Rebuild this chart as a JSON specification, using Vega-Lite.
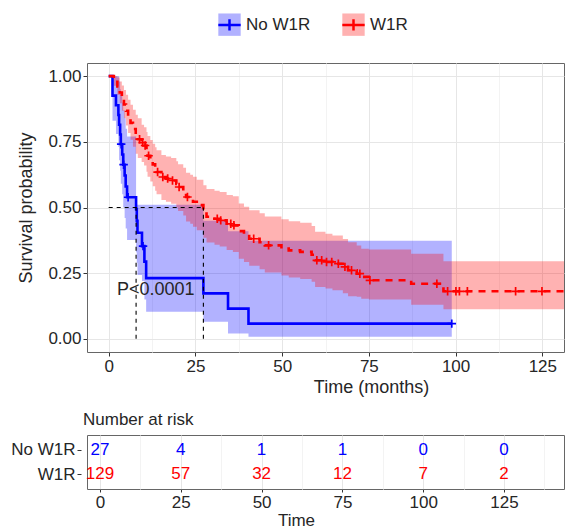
{
  "$schema": "https://vega.github.io/schema/vega-lite/v6.json",
  "padding": {"left": 10, "top": 11, "right": 0, "bottom": 0},
  "background": "white",
  "config": {
    "font": "Liberation Sans",
    "view": {"stroke": "#666666", "strokeWidth": 1},
    "axis": {
      "labelFont": "Liberation Sans", "labelFontSize": 17, "labelColor": "#262626",
      "titleFont": "Liberation Sans", "titleFontSize": 18, "titleFontWeight": "normal", "titleColor": "#262626",
      "domain": false, "tickColor": "#333333", "tickSize": 4, "labelPadding": 2
    },
    "legend": {"labelFontWeight": "normal"},
    "title": {"font": "Liberation Sans", "fontSize": 17, "fontWeight": "normal", "color": "#262626"}
  },
  "datasets": {
    "km": [
      {"group": "No W1R", "time": 0, "surv": 1},
      {"group": "No W1R", "time": 1.1, "surv": 0.926},
      {"group": "No W1R", "time": 2.1, "surv": 0.889},
      {"group": "No W1R", "time": 2.8, "surv": 0.852},
      {"group": "No W1R", "time": 3.0, "surv": 0.815},
      {"group": "No W1R", "time": 3.3, "surv": 0.778},
      {"group": "No W1R", "time": 3.5, "surv": 0.741},
      {"group": "No W1R", "time": 3.9, "surv": 0.702},
      {"group": "No W1R", "time": 4.2, "surv": 0.663},
      {"group": "No W1R", "time": 4.6, "surv": 0.622},
      {"group": "No W1R", "time": 4.9, "surv": 0.580},
      {"group": "No W1R", "time": 5.3, "surv": 0.539},
      {"group": "No W1R", "time": 7.9, "surv": 0.494},
      {"group": "No W1R", "time": 8.1, "surv": 0.449},
      {"group": "No W1R", "time": 8.3, "surv": 0.404},
      {"group": "No W1R", "time": 9.6, "surv": 0.353},
      {"group": "No W1R", "time": 10.3, "surv": 0.294},
      {"group": "No W1R", "time": 10.8, "surv": 0.231},
      {"group": "No W1R", "time": 27.3, "surv": 0.173},
      {"group": "No W1R", "time": 34.4, "surv": 0.115},
      {"group": "No W1R", "time": 40.3, "surv": 0.058},
      {"group": "No W1R", "time": 98.9, "surv": 0.058},
      {"group": "W1R", "time": 0, "surv": 1},
      {"group": "W1R", "time": 1.5, "surv": 0.984},
      {"group": "W1R", "time": 2.5, "surv": 0.961},
      {"group": "W1R", "time": 3.2, "surv": 0.938},
      {"group": "W1R", "time": 3.8, "surv": 0.915},
      {"group": "W1R", "time": 4.4, "surv": 0.892},
      {"group": "W1R", "time": 5.0, "surv": 0.868},
      {"group": "W1R", "time": 5.6, "surv": 0.845},
      {"group": "W1R", "time": 6.3, "surv": 0.822},
      {"group": "W1R", "time": 7.0, "surv": 0.799},
      {"group": "W1R", "time": 7.8, "surv": 0.776},
      {"group": "W1R", "time": 8.4, "surv": 0.760},
      {"group": "W1R", "time": 9.5, "surv": 0.747},
      {"group": "W1R", "time": 10.2, "surv": 0.736},
      {"group": "W1R", "time": 10.9, "surv": 0.714},
      {"group": "W1R", "time": 11.2, "surv": 0.697},
      {"group": "W1R", "time": 12.0, "surv": 0.680},
      {"group": "W1R", "time": 12.7, "surv": 0.664},
      {"group": "W1R", "time": 13.4, "surv": 0.648},
      {"group": "W1R", "time": 13.8, "surv": 0.635},
      {"group": "W1R", "time": 15.2, "surv": 0.616},
      {"group": "W1R", "time": 16.5, "surv": 0.610},
      {"group": "W1R", "time": 18.0, "surv": 0.603},
      {"group": "W1R", "time": 19.5, "surv": 0.590},
      {"group": "W1R", "time": 20.0, "surv": 0.578},
      {"group": "W1R", "time": 21.5, "surv": 0.562},
      {"group": "W1R", "time": 22.3, "surv": 0.540},
      {"group": "W1R", "time": 23.5, "surv": 0.532},
      {"group": "W1R", "time": 24.3, "surv": 0.522},
      {"group": "W1R", "time": 25.4, "surv": 0.509},
      {"group": "W1R", "time": 27.3, "surv": 0.482},
      {"group": "W1R", "time": 28.2, "surv": 0.465},
      {"group": "W1R", "time": 30.5, "surv": 0.457},
      {"group": "W1R", "time": 32.0, "surv": 0.451},
      {"group": "W1R", "time": 34.0, "surv": 0.438},
      {"group": "W1R", "time": 35.8, "surv": 0.432},
      {"group": "W1R", "time": 37.5, "surv": 0.410},
      {"group": "W1R", "time": 39.0, "surv": 0.397},
      {"group": "W1R", "time": 40.5, "surv": 0.381},
      {"group": "W1R", "time": 43.5, "surv": 0.368},
      {"group": "W1R", "time": 45.0, "surv": 0.356},
      {"group": "W1R", "time": 49.8, "surv": 0.344},
      {"group": "W1R", "time": 51.9, "surv": 0.337},
      {"group": "W1R", "time": 55.2, "surv": 0.331},
      {"group": "W1R", "time": 58.5, "surv": 0.320},
      {"group": "W1R", "time": 59.5, "surv": 0.299},
      {"group": "W1R", "time": 62.5, "surv": 0.293},
      {"group": "W1R", "time": 64.5, "surv": 0.286},
      {"group": "W1R", "time": 67.5, "surv": 0.274},
      {"group": "W1R", "time": 69.0, "surv": 0.261},
      {"group": "W1R", "time": 71.5, "surv": 0.248},
      {"group": "W1R", "time": 72.8, "surv": 0.236},
      {"group": "W1R", "time": 75.0, "surv": 0.223},
      {"group": "W1R", "time": 87.2, "surv": 0.210},
      {"group": "W1R", "time": 96.5, "surv": 0.181},
      {"group": "W1R", "time": 131.25, "surv": 0.181}
    ],
    "bands": [
      {"strata": "No W1R", "time": 0, "lower": 1, "upper": 1},
      {"strata": "No W1R", "time": 1.1, "lower": 0.83, "upper": 1},
      {"strata": "No W1R", "time": 2.1, "lower": 0.78, "upper": 1},
      {"strata": "No W1R", "time": 2.8, "lower": 0.73, "upper": 1},
      {"strata": "No W1R", "time": 3.0, "lower": 0.68, "upper": 0.98},
      {"strata": "No W1R", "time": 3.3, "lower": 0.64, "upper": 0.95},
      {"strata": "No W1R", "time": 3.5, "lower": 0.59, "upper": 0.93},
      {"strata": "No W1R", "time": 3.9, "lower": 0.55, "upper": 0.90},
      {"strata": "No W1R", "time": 4.2, "lower": 0.50, "upper": 0.87},
      {"strata": "No W1R", "time": 4.6, "lower": 0.46, "upper": 0.84},
      {"strata": "No W1R", "time": 4.9, "lower": 0.42, "upper": 0.80},
      {"strata": "No W1R", "time": 5.3, "lower": 0.376, "upper": 0.77},
      {"strata": "No W1R", "time": 7.9, "lower": 0.33, "upper": 0.51},
      {"strata": "No W1R", "time": 8.1, "lower": 0.29, "upper": 0.51},
      {"strata": "No W1R", "time": 8.3, "lower": 0.243, "upper": 0.51},
      {"strata": "No W1R", "time": 9.6, "lower": 0.22, "upper": 0.51},
      {"strata": "No W1R", "time": 10.3, "lower": 0.15, "upper": 0.51},
      {"strata": "No W1R", "time": 10.8, "lower": 0.103, "upper": 0.51},
      {"strata": "No W1R", "time": 27.3, "lower": 0.065, "upper": 0.45},
      {"strata": "No W1R", "time": 34.4, "lower": 0.02, "upper": 0.41},
      {"strata": "No W1R", "time": 40.3, "lower": 0.008, "upper": 0.373},
      {"strata": "No W1R", "time": 98.9, "lower": 0.008, "upper": 0.373},
      {"strata": "W1R", "time": 0, "lower": 1, "upper": 1},
      {"strata": "W1R", "time": 1.5, "lower": 0.963, "upper": 1},
      {"strata": "W1R", "time": 2.5, "lower": 0.928, "upper": 0.995},
      {"strata": "W1R", "time": 3.2, "lower": 0.897, "upper": 0.98},
      {"strata": "W1R", "time": 3.8, "lower": 0.868, "upper": 0.964},
      {"strata": "W1R", "time": 4.4, "lower": 0.84, "upper": 0.947},
      {"strata": "W1R", "time": 5.0, "lower": 0.812, "upper": 0.929},
      {"strata": "W1R", "time": 5.6, "lower": 0.784, "upper": 0.91},
      {"strata": "W1R", "time": 6.3, "lower": 0.758, "upper": 0.891},
      {"strata": "W1R", "time": 7.0, "lower": 0.731, "upper": 0.872},
      {"strata": "W1R", "time": 7.8, "lower": 0.705, "upper": 0.853},
      {"strata": "W1R", "time": 8.4, "lower": 0.688, "upper": 0.84},
      {"strata": "W1R", "time": 9.5, "lower": 0.673, "upper": 0.815},
      {"strata": "W1R", "time": 10.2, "lower": 0.66, "upper": 0.805},
      {"strata": "W1R", "time": 10.9, "lower": 0.636, "upper": 0.787},
      {"strata": "W1R", "time": 11.2, "lower": 0.617, "upper": 0.772},
      {"strata": "W1R", "time": 12.0, "lower": 0.599, "upper": 0.757},
      {"strata": "W1R", "time": 12.7, "lower": 0.581, "upper": 0.743},
      {"strata": "W1R", "time": 13.4, "lower": 0.564, "upper": 0.729},
      {"strata": "W1R", "time": 13.8, "lower": 0.55, "upper": 0.718},
      {"strata": "W1R", "time": 15.2, "lower": 0.529, "upper": 0.7},
      {"strata": "W1R", "time": 16.5, "lower": 0.522, "upper": 0.694},
      {"strata": "W1R", "time": 18.0, "lower": 0.514, "upper": 0.688},
      {"strata": "W1R", "time": 19.5, "lower": 0.5, "upper": 0.676},
      {"strata": "W1R", "time": 20.0, "lower": 0.487, "upper": 0.665},
      {"strata": "W1R", "time": 21.5, "lower": 0.47, "upper": 0.651},
      {"strata": "W1R", "time": 22.3, "lower": 0.447, "upper": 0.632},
      {"strata": "W1R", "time": 23.5, "lower": 0.438, "upper": 0.625},
      {"strata": "W1R", "time": 24.3, "lower": 0.427, "upper": 0.617},
      {"strata": "W1R", "time": 25.4, "lower": 0.413, "upper": 0.606},
      {"strata": "W1R", "time": 27.3, "lower": 0.385, "upper": 0.585},
      {"strata": "W1R", "time": 28.2, "lower": 0.367, "upper": 0.57},
      {"strata": "W1R", "time": 30.5, "lower": 0.358, "upper": 0.564},
      {"strata": "W1R", "time": 32.0, "lower": 0.352, "upper": 0.559},
      {"strata": "W1R", "time": 34.0, "lower": 0.338, "upper": 0.548},
      {"strata": "W1R", "time": 35.8, "lower": 0.331, "upper": 0.543},
      {"strata": "W1R", "time": 37.5, "lower": 0.305, "upper": 0.515},
      {"strata": "W1R", "time": 39.0, "lower": 0.293, "upper": 0.503},
      {"strata": "W1R", "time": 40.5, "lower": 0.278, "upper": 0.49},
      {"strata": "W1R", "time": 43.5, "lower": 0.265, "upper": 0.478},
      {"strata": "W1R", "time": 45.0, "lower": 0.253, "upper": 0.466},
      {"strata": "W1R", "time": 49.8, "lower": 0.241, "upper": 0.455},
      {"strata": "W1R", "time": 51.9, "lower": 0.234, "upper": 0.448},
      {"strata": "W1R", "time": 55.2, "lower": 0.228, "upper": 0.442},
      {"strata": "W1R", "time": 58.5, "lower": 0.217, "upper": 0.43},
      {"strata": "W1R", "time": 59.5, "lower": 0.197, "upper": 0.408},
      {"strata": "W1R", "time": 62.5, "lower": 0.192, "upper": 0.4},
      {"strata": "W1R", "time": 64.5, "lower": 0.185, "upper": 0.393},
      {"strata": "W1R", "time": 67.5, "lower": 0.174, "upper": 0.38},
      {"strata": "W1R", "time": 69.0, "lower": 0.162, "upper": 0.368},
      {"strata": "W1R", "time": 71.5, "lower": 0.16, "upper": 0.355},
      {"strata": "W1R", "time": 72.8, "lower": 0.153, "upper": 0.343},
      {"strata": "W1R", "time": 75.0, "lower": 0.15, "upper": 0.34},
      {"strata": "W1R", "time": 87.2, "lower": 0.13, "upper": 0.324},
      {"strata": "W1R", "time": 96.5, "lower": 0.113, "upper": 0.295},
      {"strata": "W1R", "time": 131.25, "lower": 0.113, "upper": 0.295}
    ],
    "cens": [
      {"group": "No W1R", "time": 3.6, "surv": 0.741},
      {"group": "No W1R", "time": 4.3, "surv": 0.663},
      {"group": "No W1R", "time": 5.6, "surv": 0.539},
      {"group": "No W1R", "time": 9.9, "surv": 0.353},
      {"group": "No W1R", "time": 98.9, "surv": 0.058},
      {"group": "W1R", "time": 8.9, "surv": 0.760},
      {"group": "W1R", "time": 9.8, "surv": 0.747},
      {"group": "W1R", "time": 10.5, "surv": 0.736},
      {"group": "W1R", "time": 11.5, "surv": 0.697},
      {"group": "W1R", "time": 14.1, "surv": 0.635},
      {"group": "W1R", "time": 15.6, "surv": 0.616},
      {"group": "W1R", "time": 17.0, "surv": 0.610},
      {"group": "W1R", "time": 18.4, "surv": 0.603},
      {"group": "W1R", "time": 20.3, "surv": 0.578},
      {"group": "W1R", "time": 22.7, "surv": 0.540},
      {"group": "W1R", "time": 31.3, "surv": 0.457},
      {"group": "W1R", "time": 32.3, "surv": 0.451},
      {"group": "W1R", "time": 35.2, "surv": 0.438},
      {"group": "W1R", "time": 36.1, "surv": 0.432},
      {"group": "W1R", "time": 41.8, "surv": 0.381},
      {"group": "W1R", "time": 46.1, "surv": 0.356},
      {"group": "W1R", "time": 60.0, "surv": 0.299},
      {"group": "W1R", "time": 61.4, "surv": 0.299},
      {"group": "W1R", "time": 62.8, "surv": 0.293},
      {"group": "W1R", "time": 64.3, "surv": 0.293},
      {"group": "W1R", "time": 66.2, "surv": 0.286},
      {"group": "W1R", "time": 68.1, "surv": 0.274},
      {"group": "W1R", "time": 70.0, "surv": 0.261},
      {"group": "W1R", "time": 72.4, "surv": 0.248},
      {"group": "W1R", "time": 75.3, "surv": 0.223},
      {"group": "W1R", "time": 94.6, "surv": 0.210},
      {"group": "W1R", "time": 97.7, "surv": 0.181},
      {"group": "W1R", "time": 100.1, "surv": 0.181},
      {"group": "W1R", "time": 101.1, "surv": 0.181},
      {"group": "W1R", "time": 103.4, "surv": 0.181},
      {"group": "W1R", "time": 117.3, "surv": 0.181},
      {"group": "W1R", "time": 124.9, "surv": 0.181}
    ],
    "medians": [
      {"t1": 0, "t2": 27.3, "s1": 0.5, "s2": 0.5},
      {"t1": 7.9, "t2": 7.9, "s1": 0, "s2": 0.5},
      {"t1": 27.3, "t2": 27.3, "s1": 0, "s2": 0.5}
    ],
    "pval": [{"time": 2.4, "surv": 0.186, "label": "P<0.0001"}],
    "risk": [
      {"group": "No W1R", "time": 0, "n": 27},
      {"group": "No W1R", "time": 25, "n": 4},
      {"group": "No W1R", "time": 50, "n": 1},
      {"group": "No W1R", "time": 75, "n": 1},
      {"group": "No W1R", "time": 100, "n": 0},
      {"group": "No W1R", "time": 125, "n": 0},
      {"group": "W1R", "time": 0, "n": 129},
      {"group": "W1R", "time": 25, "n": 57},
      {"group": "W1R", "time": 50, "n": 32},
      {"group": "W1R", "time": 75, "n": 12},
      {"group": "W1R", "time": 100, "n": 7},
      {"group": "W1R", "time": 125, "n": 2}
    ]
  },
  "resolve": {"scale": {"fill": "independent", "stroke": "independent", "color": "independent"}, "legend": {"fill": "independent", "stroke": "independent", "color": "independent"}},
  "spacing": 13,
  "vconcat": [
    {
      "width": 477,
      "height": 289,
      "layer": [
        {
          "data": {"name": "bands"},
          "mark": {"type": "area", "interpolate": "step-after", "fillOpacity": 0.3},
          "encoding": {
            "x": {"field": "time", "type": "quantitative",
              "scale": {"domain": [-6.25, 131.25], "nice": false, "zero": false},
              "axis": {
                "values": [0, 12.5, 25, 37.5, 50, 62.5, 75, 87.5, 100, 112.5, 125],
                "format": "d",
                "labelExpr": "datum.value % 25 === 0 ? datum.label : ''",
                "title": "Time (months)", "titleX": 284, "titlePadding": 4,
                "gridColor": {"condition": {"test": "datum.value % 25 !== 0", "value": "#f3f3f3"}, "value": "#e6e6e6"},
                "tickColor": {"condition": {"test": "datum.value % 25 !== 0", "value": "transparent"}, "value": "#333333"}
              }},
            "y": {"field": "lower", "type": "quantitative",
              "scale": {"domain": [-0.05, 1.05], "nice": false, "zero": false},
              "axis": {
                "values": [0, 0.125, 0.25, 0.375, 0.5, 0.625, 0.75, 0.875, 1],
                "labelExpr": "indexof([0,0.25,0.5,0.75,1], datum.value) >= 0 ? format(datum.value, '.2f') : ''",
                "title": "Survival probability", "titlePadding": 12,
                "gridColor": {"condition": {"test": "indexof([0,0.25,0.5,0.75,1], datum.value) < 0", "value": "#f3f3f3"}, "value": "#e6e6e6"},
                "tickColor": {"condition": {"test": "indexof([0,0.25,0.5,0.75,1], datum.value) < 0", "value": "transparent"}, "value": "#333333"}
              }},
            "y2": {"field": "upper"},
            "fill": {"field": "strata", "type": "nominal",
              "scale": {"range": ["#0000ff", "#ff0000"]},
              "legend": {"orient": "none", "legendX": 130, "legendY": -51, "direction": "horizontal", "title": null,
                "symbolType": "square", "symbolSize": 500, "symbolOpacity": 0.3, "symbolStrokeColor": "transparent", "symbolStrokeWidth": 2.5,
                "labelFontSize": 17, "labelFontWeight": "normal", "labelFont": "Liberation Sans", "labelColor": "transparent", "labelOffset": 4, "columnPadding": 26}}
          }
        },
        {
          "data": {"name": "km"},
          "transform": [{"filter": "datum.group === 'No W1R'"}],
          "mark": {"type": "line", "interpolate": "step-after", "strokeWidth": 2.6},
          "encoding": {
            "x": {"field": "time", "type": "quantitative"},
            "y": {"field": "surv", "type": "quantitative"},
            "stroke": {"field": "group", "type": "nominal",
              "scale": {"range": ["#0000ff", "#ff0000"]},
              "legend": {"orient": "none", "legendX": 130, "legendY": -51, "direction": "horizontal", "title": null,
                "symbolType": "M-1,0H1M0,-0.5V0.5", "symbolSize": 500, "symbolStrokeWidth": 2.5,
                "labelFontSize": 17, "labelFontWeight": "normal", "labelFont": "Liberation Sans", "labelColor": "#262626", "labelOffset": 4, "columnPadding": 26}}
          }
        },
        {
          "data": {"name": "km"},
          "transform": [{"filter": "datum.group === 'W1R'"}],
          "mark": {"type": "line", "interpolate": "step-after", "strokeWidth": 2.6, "strokeDash": [7, 6]},
          "encoding": {
            "x": {"field": "time", "type": "quantitative"},
            "y": {"field": "surv", "type": "quantitative"},
            "stroke": {"field": "group", "type": "nominal"}
          }
        },
        {
          "data": {"name": "cens"},
          "mark": {"type": "point", "shape": "M-1,0H1M0,-1V1", "size": 72, "filled": false, "strokeWidth": 1.7, "opacity": 1},
          "encoding": {
            "x": {"field": "time", "type": "quantitative"},
            "y": {"field": "surv", "type": "quantitative"},
            "stroke": {"field": "group", "type": "nominal"}
          }
        },
        {
          "data": {"name": "medians"},
          "mark": {"type": "rule", "color": "black", "strokeWidth": 1.1, "strokeDash": [4, 4]},
          "encoding": {
            "x": {"field": "t1", "type": "quantitative"},
            "x2": {"field": "t2"},
            "y": {"field": "s1", "type": "quantitative"},
            "y2": {"field": "s2"}
          }
        },
        {
          "data": {"name": "pval"},
          "mark": {"type": "text", "align": "left", "baseline": "middle", "fontSize": 18, "font": "Liberation Sans", "color": "#262626"},
          "encoding": {
            "x": {"field": "time", "type": "quantitative"},
            "y": {"field": "surv", "type": "quantitative"},
            "text": {"field": "label"}
          }
        }
      ]
    },
    {
      "width": 477,
      "height": 54,
      "title": {"text": "Number at risk", "anchor": "start", "frame": "group", "offset": 6, "dx": -4, "fontSize": 17},
      "data": {"name": "risk"},
      "mark": {"type": "text", "fontSize": 17, "font": "Liberation Sans", "baseline": "middle"},
      "encoding": {
        "x": {"field": "time", "type": "quantitative",
          "scale": {"domain": [-4.02, 143.56], "nice": false, "zero": false},
          "axis": {
            "values": [0, 12.5, 25, 37.5, 50, 62.5, 75, 87.5, 100, 112.5, 125, 137.5],
            "format": "d",
            "tickSize": 3,
            "labelExpr": "datum.value % 25 === 0 ? datum.label : ''",
            "title": "Time", "titleX": 209, "titlePadding": 2, "titleFontSize": 17,
            "gridColor": {"condition": {"test": "datum.value % 25 !== 0", "value": "#f3f3f3"}, "value": "#e6e6e6"},
            "tickColor": {"condition": {"test": "datum.value % 25 !== 0", "value": "transparent"}, "value": "#333333"}
          }},
        "y": {"field": "group", "type": "nominal",
          "scale": {"type": "point", "domain": ["No W1R", "W1R"], "padding": 0.6},
          "axis": {"title": null, "gridColor": "#ececec", "labelPadding": 2, "offset": 6}},
        "text": {"field": "n", "type": "quantitative"},
        "color": {"field": "group", "type": "nominal",
          "scale": {"domain": ["No W1R", "W1R"], "range": ["#0000ff", "#ff0000"]},
          "legend": null}
      }
    }
  ]
}
